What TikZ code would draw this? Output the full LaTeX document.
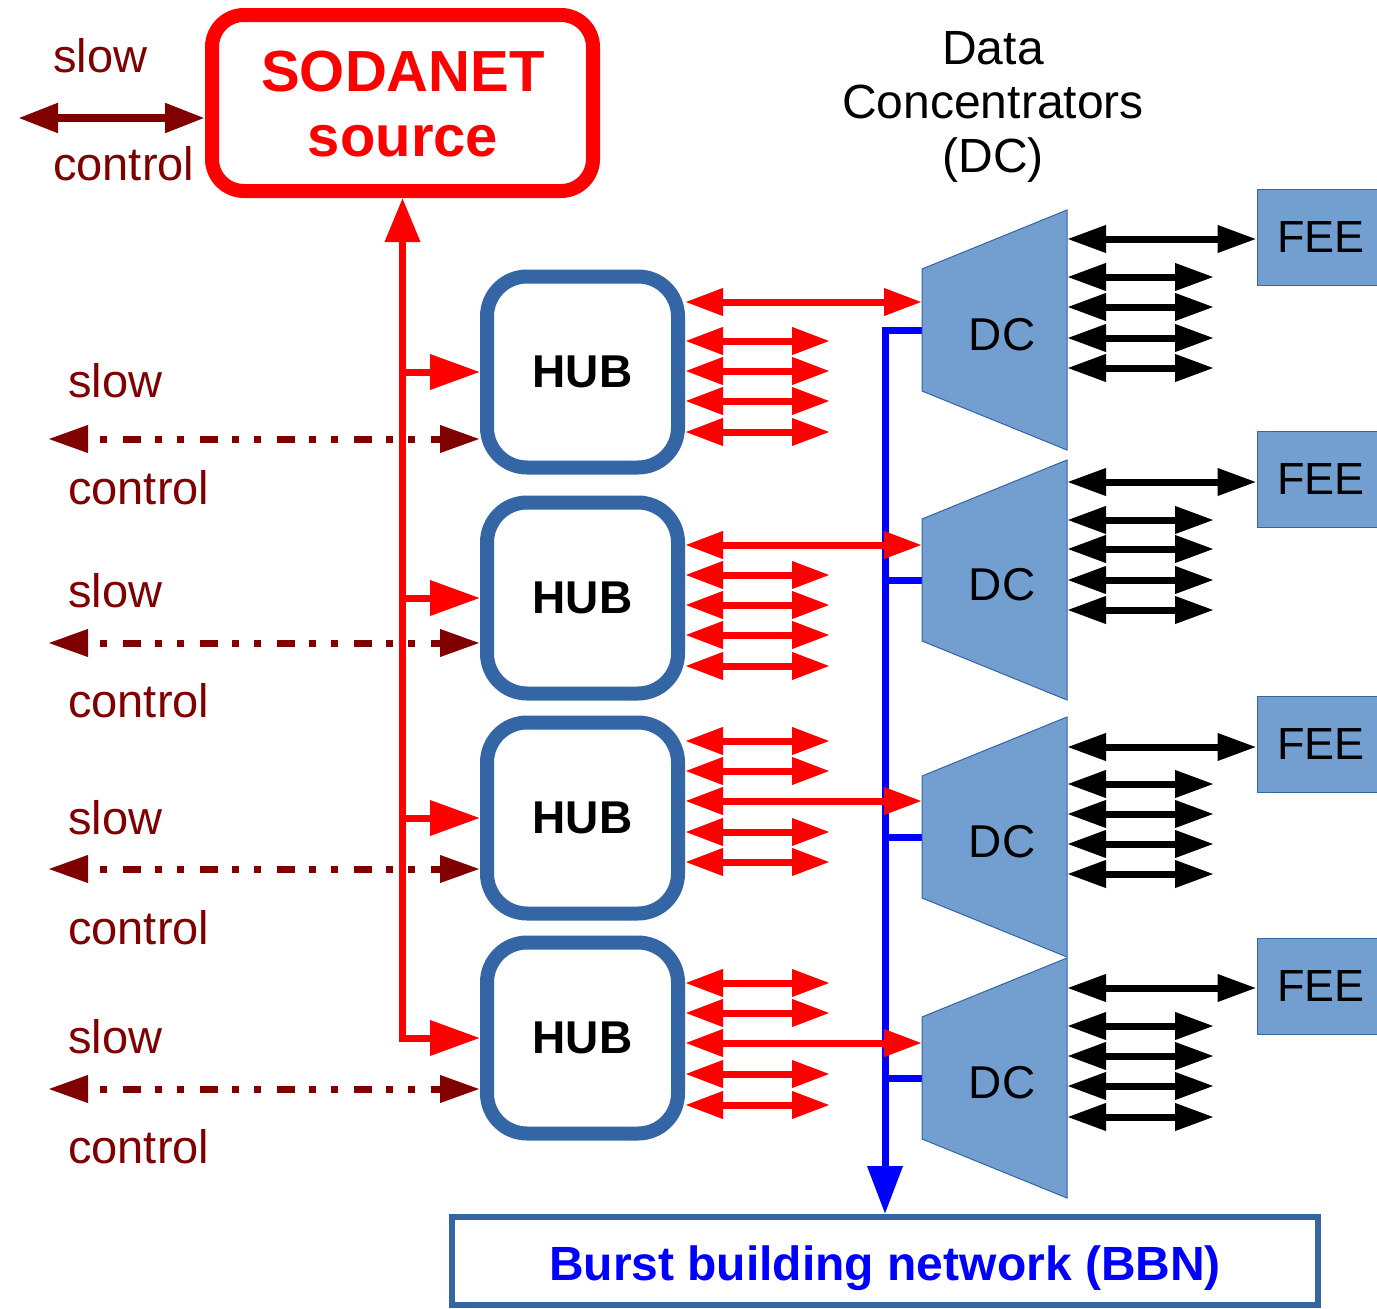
\documentclass[tikz,border=0pt]{standalone}
\usepackage{fontspec}
\setmainfont{Liberation Sans}
\usetikzlibrary{arrows.meta,calc}
\definecolor{dred}{HTML}{800000}
\definecolor{hubblue}{HTML}{3465A4}
\definecolor{dcfill}{HTML}{729FCF}
\definecolor{pred}{HTML}{FF0000}
\definecolor{pblue}{HTML}{0000FF}
\begin{document}
\begin{tikzpicture}[x=1pt,y=-1pt,
  lblL/.style={text=dred, font=\fontsize{47pt}{56pt}\selectfont, inner sep=0pt, anchor=base west},
  hubbox/.style={draw=hubblue, fill=white, line width=14pt, rounded corners=40pt, minimum width=191pt, minimum height=191pt, inner sep=0pt, font=\fontsize{46pt}{55pt}\selectfont\bfseries},
  srcbox/.style={draw=pred, fill=white, line width=14pt, rounded corners=32pt, minimum width=381pt, minimum height=176pt, inner sep=0pt},
  srctext/.style={text=pred, font=\fontsize{58pt}{65pt}\selectfont\bfseries, inner sep=0pt, anchor=base},
  dcframe/.style={minimum width=145pt, minimum height=240pt, inner sep=0pt, outer sep=0pt},
  dcshape/.style={fill=dcfill, draw=hubblue, line width=1pt},
  dctext/.style={font=\fontsize{46pt}{55pt}\selectfont, inner sep=0pt},
  feebox/.style={fill=dcfill, draw=hubblue, line width=1pt, minimum width=121pt, minimum height=96pt, inner sep=0pt, font=\fontsize{45pt}{54pt}\selectfont},
  titletext/.style={font=\fontsize{48pt}{54pt}\selectfont, inner sep=0pt, anchor=base},
  bbnbox/.style={draw=hubblue, line width=6pt, minimum width=866pt, minimum height=88pt, inner sep=0pt},
  bbntext/.style={text=pblue, font=\fontsize{48pt}{56pt}\selectfont\bfseries, inner sep=0pt, anchor=base},
  redarr/.style={draw=pred, line width=7pt, {Triangle[length=38pt,width=26pt]}-{Triangle[length=38pt,width=26pt]}},
  blkarr/.style={draw=black, line width=7pt, {Triangle[length=39pt,width=26pt]}-{Triangle[length=39pt,width=26pt]}},
  topctl/.style={draw=dred, line width=8pt, {Triangle[length=40pt,width=28pt]}-{Triangle[length=40pt,width=28pt]}},
  dashctl/.style={draw=dred, line width=7pt, dash pattern=on 7pt off 15pt on 7pt off 16pt on 18pt off 14pt, dash phase=8pt, {Triangle[length=40pt,width=26pt]}-{Triangle[length=40pt,width=26pt]}},
  trunk/.style={draw=pred, line width=7pt},
  blueline/.style={draw=pblue, line width=7pt}
]
\fill[white] (0,0) rectangle (1377,1309);
\useasboundingbox (0,0) rectangle (1377,1309);

% ---- nodes ----
\node[srcbox] (sodanet) at (402.5,103) {};
\node[srctext] (srct1) at (403,91) {SODANET};
\node[srctext] (srct2) at (403,156) {source};

\node[hubbox] (hub1) at (582.5,372) {HUB};
\node[hubbox] (hub2) at (582.5,598) {HUB};
\node[hubbox] (hub3) at (582.5,818) {HUB};
\node[hubbox] (hub4) at (582.5,1038) {HUB};

\node[bbnbox] (bbn) at (885,1261) {};
\node[bbntext] (bbnt) at (885,1280) {Burst building network (BBN)};

\node[titletext] (tt1) at (993,64) {Data};
\node[titletext] (tt2) at (993,118) {Concentrators};
\node[titletext] (tt3) at (993,172) {(DC)};

\node[dcframe] (dc1) at (994.5,330) {};
\node[dcframe] (dc2) at (994.5,580) {};
\node[dcframe] (dc3) at (994.5,837) {};
\node[dcframe] (dc4) at (994.5,1078) {};

\node[feebox] (fee1) at (1317.5,237) {\hspace{7pt}FEE};
\node[feebox] (fee2) at (1317.5,479.5) {\hspace{7pt}FEE};
\node[feebox] (fee3) at (1317.5,744) {\hspace{7pt}FEE};
\node[feebox] (fee4) at (1317.5,986) {\hspace{7pt}FEE};

% ---- slow control labels ----
\node[lblL] (slow0) at (53,72) {slow};
\node[lblL] (ctrl0) at (53,180) {control};
\node[lblL] (slow1) at (68,397) {slow};
\node[lblL] (ctrl1) at (68,504) {control};
\node[lblL] (slow2) at (68,607) {slow};
\node[lblL] (ctrl2) at (68,717) {control};
\node[lblL] (slow3) at (68,834) {slow};
\node[lblL] (ctrl3) at (68,944) {control};
\node[lblL] (slow4) at (68,1053) {slow};
\node[lblL] (ctrl4) at (68,1163) {control};

% ---- slow control arrows ----
\coordinate (sc0) at (18,118);
\draw[topctl] (sc0) -- (sc0 -| sodanet.west);
\coordinate (sc1) at (48,439);
\coordinate (sc2) at (48,643);
\coordinate (sc3) at (48,869);
\coordinate (sc4) at (48,1089);
\draw[dashctl] (sc1) -- (sc1 -| hub1.west);
\draw[dashctl] (sc2) -- (sc2 -| hub2.west);
\draw[dashctl] (sc3) -- (sc3 -| hub3.west);
\draw[dashctl] (sc4) -- (sc4 -| hub4.west);

% ---- blue data path to BBN ----
\draw[blueline, -{Triangle[length=48pt,width=34pt]}] (dc1.west) -| (bbn.north);
\draw[blueline] (dc2.west) -- (dc2.west -| bbn.north);
\draw[blueline] (dc3.west) -- (dc3.west -| bbn.north);
\draw[blueline] (dc4.west) -- (dc4.west -| bbn.north);

% ---- DC trapezoids ----
\foreach \d in {dc1,dc2,dc3,dc4}{
  \filldraw[dcshape] ($(\d.west)+(0,-61)$) -- (\d.north east) -- (\d.south east) -- ($(\d.west)+(0,61)$) -- cycle;
}
\node[dctext] (dct1) at (1002,335) {DC};
\node[dctext] (dct2) at (1002,585) {DC};
\node[dctext] (dct3) at (1002,842) {DC};
\node[dctext] (dct4) at (1002,1083) {DC};

% ---- red SODA trunk ----
\draw[trunk, {Triangle[length=44pt,width=34pt]}-{Triangle[length=50pt,width=34pt]}] (sodanet.south) |- (hub4.west);
\draw[trunk, -{Triangle[length=50pt,width=34pt]}] (sodanet.south |- hub1.west) -- (hub1.west);
\draw[trunk, -{Triangle[length=50pt,width=34pt]}] (sodanet.south |- hub2.west) -- (hub2.west);
\draw[trunk, -{Triangle[length=50pt,width=34pt]}] (sodanet.south |- hub3.west) -- (hub3.west);

% ---- red hub links ----
\foreach \h/\d/\yl/\ylist in {hub1/dc1/302/{341,371,401,432}, hub2/dc2/545/{575,605,635,666}, hub3/dc3/801/{741,771,832,862}, hub4/dc4/1043/{983,1013,1074,1105}}{
  \coordinate (lk) at (0,\yl);
  \draw[redarr] (lk -| \h.east) -- (lk -| \d.west);
  \foreach \y in \ylist {
    \coordinate (rk) at (830,\y);
    \draw[redarr] (rk -| \h.east) -- (rk);
  }
}

% ---- black DC links ----
\foreach \d/\f/\yl/\ylist in {dc1/fee1/239/{277,307,338,368}, dc2/fee2/482/{520,549,580,610}, dc3/fee3/747/{784,814,844,874}, dc4/fee4/988/{1026,1056,1086,1117}}{
  \coordinate (bk) at (0,\yl);
  \draw[blkarr] (bk -| \d.east) -- (bk -| \f.west);
  \foreach \y in \ylist {
    \coordinate (sk) at (1214,\y);
    \draw[blkarr] (sk -| \d.east) -- (sk);
  }
}
\end{tikzpicture}
\end{document}
